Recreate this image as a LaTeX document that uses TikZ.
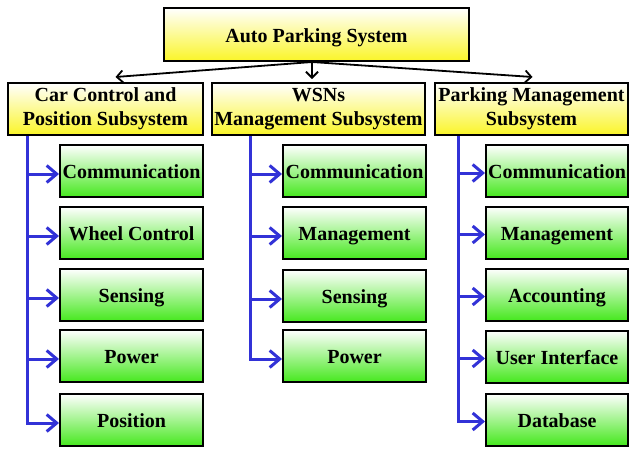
\documentclass[tikz,border=0pt]{standalone}
\usepackage{fontspec}
\setmainfont{Liberation Serif}
\usetikzlibrary{arrows.meta}
\definecolor{boxyellow}{RGB}{250,245,40}
\definecolor{boxgreen}{RGB}{70,232,30}
\definecolor{linkblue}{RGB}{50,50,215}
\begin{document}
\begin{tikzpicture}[x=1pt,y=-1pt,
  base/.style={draw=black, line width=2pt, align=center, inner sep=0pt,
    font=\fontsize{20}{24}\selectfont\bfseries},
  headbox/.style={base, top color=white, bottom color=boxyellow, minimum height=52pt},
  leafbox/.style={base, top color=white, bottom color=boxgreen, minimum height=52pt, text height=15pt, text depth=0pt},
  toplink/.style={draw=black, line width=1.8pt, -{Straight Barb[length=6pt,width=12pt,line width=1.8pt]}},
  sublink/.style={draw=linkblue, line width=3pt, -{Straight Barb[length=10pt,width=17pt,line width=3pt]}}
]
\useasboundingbox[fill=white] (0,0) rectangle (629,448);

% root and subsystems
\node[headbox, minimum width=305pt, minimum height=53pt, text height=15pt, text depth=0pt] (root) at (316.5,34.5) {Auto Parking System};
\node[headbox, minimum width=195pt] (car) at (105.5,109) {Car Control and\\Position Subsystem};
\node[headbox, minimum width=213pt] (wsn) at (318.5,109) {WSNs\\Management Subsystem};
\node[headbox, minimum width=193pt] (pm)  at (531.5,109) {Parking Management\\Subsystem};

\coordinate (hub) at (312,62);
\draw[toplink] (hub) -- ([xshift=10pt,yshift=5pt]car.north);
\draw[toplink] (hub) -- ([yshift=3pt]hub |- wsn.north);
\draw[toplink] (hub) -- ([xshift=1pt,yshift=5pt]pm.north);

% car control modules
\node[leafbox, minimum width=143pt] (c1) at (131.5,171) {Communication};
\node[leafbox, minimum width=143pt] (c2) at (131.5,233) {Wheel Control};
\node[leafbox, minimum width=143pt] (c3) at (131.5,295) {Sensing};
\node[leafbox, minimum width=143pt] (c4) at (131.5,356) {Power};
\node[leafbox, minimum width=143pt] (c5) at (131.5,420) {Position};

% WSN modules
\node[leafbox, minimum width=143pt] (w1) at (354.5,171) {Communication};
\node[leafbox, minimum width=143pt] (w2) at (354.5,233) {Management};
\node[leafbox, minimum width=143pt] (w3) at (354.5,296) {Sensing};
\node[leafbox, minimum width=143pt] (w4) at (354.5,356) {Power};

% parking management modules
\node[leafbox, minimum width=142pt] (p1) at (557,171) {Communication};
\node[leafbox, minimum width=142pt] (p2) at (557,232.5) {Management};
\node[leafbox, minimum width=142pt] (p3) at (557,294.5) {Accounting};
\node[leafbox, minimum width=142pt] (p4) at (557,356.5) {User Interface};
\node[leafbox, minimum width=142pt] (p5) at (557,419.5) {Database};

% blue trunks with a branch into every module
\coordinate (ct) at (car.south -| 27,0);
\coordinate (wt) at (wsn.south -| 250,0);
\coordinate (pt) at (pm.south -| 458,0);
\foreach \n in {c1,c2,c3,c4,c5}
  \draw[sublink] (ct) |- ([yshift=-3pt]\n.west);
\foreach \n in {w1,w2,w3,w4}
  \draw[sublink] (wt) |- ([yshift=-3pt]\n.west);
\foreach \n in {p1,p2,p3,p4,p5}
  \draw[sublink] (pt) |- ([yshift=-2pt]\n.west);
\end{tikzpicture}
\end{document}
